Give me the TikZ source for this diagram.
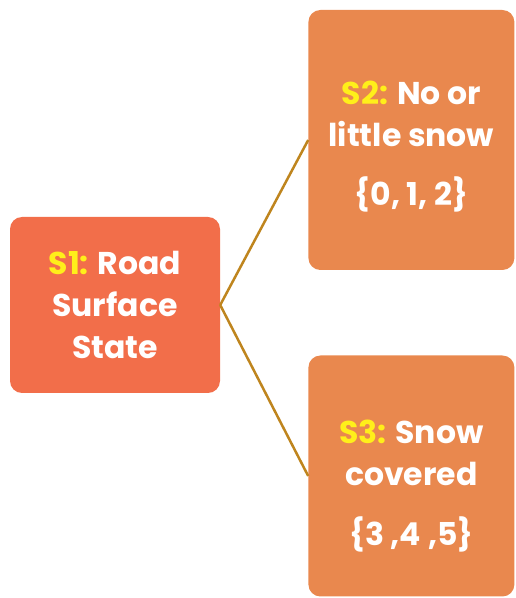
\documentclass[tikz,border=0pt]{standalone}
\usepackage{fontspec}
\setmainfont{Poppins}
\usepackage{tikz}
\usetikzlibrary{positioning}

\definecolor{rootfill}{HTML}{F26E4A}
\definecolor{leaffill}{HTML}{E9884E}
\definecolor{linkcol}{HTML}{BF851E}
\definecolor{tagcol}{HTML}{FFEF1A}

\newcommand{\tag}[1]{\textcolor{tagcol}{#1}}

\begin{document}
\begin{tikzpicture}
        [x=1pt,y=1pt,
        box/.style={rectangle,rounded corners=12pt,draw=none,text=white,
          align=center,font=\fontsize{31.5}{42}\selectfont\bfseries,inner sep=0pt},
        root/.style={box,fill=rootfill,minimum width=210pt,minimum height=176pt},
        leaf/.style={box,fill=leaffill,minimum width=206pt},
        link/.style={draw=linkcol,line width=2.5pt}]
        \useasboundingbox (0,0) rectangle (516,598);
        \node[root]  (S1)  at (115,293) {\tag{S1:} Road\\Surface\\State};
        \node[leaf,minimum height=260pt]  (S2) [right=88pt of S1,yshift=165pt] {\rule{0pt}{37pt}\tag{S2:} No or\\little snow\\[17pt]\{0, 1, 2\}};
        \node[leaf,minimum height=241pt]  (S3) [right=88pt of S1,yshift=-171pt] {\rule{0pt}{44pt}\tag{S3:} Snow\\covered\\[18pt]\{3 ,4 ,5\}};

        \path [link] (S1.east) -- (S2.west)
        (S1.east) -- (S3.west);
       \end{tikzpicture}
\end{document}
